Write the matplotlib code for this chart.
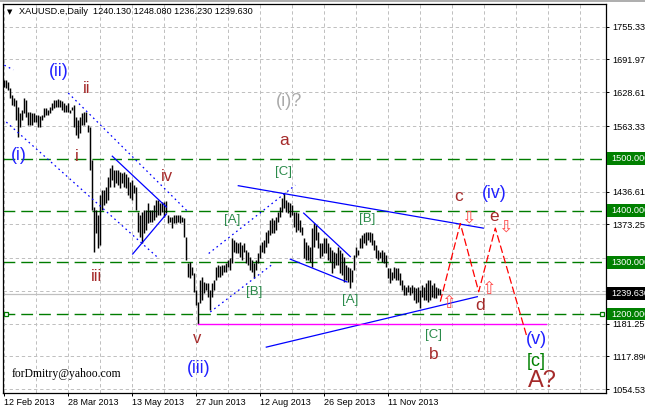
import matplotlib
matplotlib.use('Agg')
import matplotlib.pyplot as plt
from matplotlib.patches import Rectangle

plt.rcParams['lines.scale_dashes'] = False
plt.rcParams['font.family'] = ['Liberation Sans', 'DejaVu Sans']

# daily bars, XAUUSD from 12 Feb 2013 (one entry per bar)
highs = [1652, 1652, 1648, 1637, 1623, 1617, 1614, 1600, 1589, 1594,
         1617, 1614, 1590, 1590, 1589, 1589, 1585, 1585, 1583, 1585,
         1598, 1598, 1594, 1600, 1608, 1614, 1614, 1615, 1614, 1612,
         1608, 1604, 1608, 1594, 1600, 1604, 1581, 1575, 1581, 1589,
         1590, 1590, 1565, 1561, 1498, 1407, 1401, 1391, 1430, 1440,
         1440, 1446, 1465, 1482, 1488, 1478, 1478, 1478, 1474, 1472,
         1474, 1470, 1465, 1455, 1459, 1449, 1446, 1397, 1391, 1397,
         1401, 1401, 1415, 1401, 1401, 1411, 1420, 1420, 1415, 1417,
         1417, 1419, 1391, 1387, 1387, 1391, 1391, 1391, 1391, 1387,
         1386, 1349, 1299, 1301, 1291, 1279, 1246, 1223, 1266, 1271,
         1262, 1260, 1260, 1246, 1260, 1266, 1291, 1295, 1293, 1295,
         1295, 1299, 1304, 1308, 1347, 1343, 1339, 1337, 1339, 1333,
         1337, 1324, 1320, 1310, 1304, 1299, 1304, 1318, 1333, 1339,
         1343, 1359, 1362, 1382, 1386, 1382, 1387, 1397, 1407, 1424,
         1434, 1420, 1417, 1415, 1411, 1397, 1397, 1395, 1382, 1368,
         1347, 1339, 1333, 1330, 1366, 1376, 1372, 1359, 1337, 1337,
         1347, 1347, 1337, 1330, 1324, 1320, 1318, 1330, 1324, 1318,
         1310, 1295, 1291, 1289, 1285, 1314, 1330, 1324, 1347, 1353,
         1357, 1359, 1359, 1359, 1357, 1343, 1333, 1324, 1320, 1324,
         1320, 1314, 1289, 1289, 1281, 1291, 1289, 1289, 1279, 1266,
         1256, 1252, 1256, 1252, 1256, 1252, 1250, 1252, 1246, 1256,
         1252, 1260, 1266, 1266, 1256, 1260, 1252, 1250, 1248.08]
lows = [1639, 1637, 1633, 1617, 1604, 1602, 1575, 1542, 1561, 1575,
        1589, 1581, 1565, 1565, 1565, 1571, 1571, 1561, 1561, 1575,
        1581, 1585, 1585, 1589, 1594, 1598, 1600, 1600, 1600, 1594,
        1590, 1590, 1590, 1589, 1594, 1561, 1546, 1540, 1550, 1565,
        1565, 1571, 1552, 1478, 1401, 1320, 1357, 1328, 1333, 1401,
        1411, 1415, 1420, 1446, 1459, 1446, 1453, 1449, 1444, 1453,
        1446, 1444, 1430, 1424, 1420, 1434, 1401, 1359, 1349, 1337,
        1357, 1362, 1376, 1378, 1378, 1382, 1387, 1391, 1391, 1397,
        1387, 1395, 1376, 1378, 1366, 1376, 1376, 1378, 1376, 1378,
        1349, 1304, 1272, 1270, 1275, 1243, 1217, 1181, 1221, 1227,
        1241, 1246, 1233, 1208, 1233, 1246, 1266, 1272, 1272, 1275,
        1281, 1281, 1291, 1285, 1299, 1320, 1318, 1318, 1310, 1304,
        1320, 1299, 1295, 1285, 1281, 1270, 1285, 1299, 1308, 1320,
        1318, 1330, 1337, 1353, 1357, 1357, 1362, 1378, 1387, 1397,
        1405, 1397, 1395, 1387, 1391, 1368, 1359, 1362, 1359, 1353,
        1308, 1304, 1304, 1301, 1291, 1330, 1343, 1328, 1308, 1312,
        1318, 1318, 1304, 1301, 1279, 1289, 1295, 1295, 1279, 1275,
        1262, 1266, 1262, 1250, 1262, 1285, 1310, 1314, 1328, 1328,
        1337, 1333, 1343, 1339, 1333, 1324, 1308, 1304, 1308, 1301,
        1299, 1291, 1270, 1260, 1266, 1270, 1266, 1266, 1256, 1246,
        1237, 1237, 1243, 1237, 1241, 1227, 1221, 1223, 1212, 1233,
        1227, 1227, 1223, 1227, 1233, 1231, 1231, 1237, 1236.23]

date_ticks = [0, 32, 64, 96, 128, 160, 192]
date_labels = ['12 Feb 2013', '28 Mar 2013', '13 May 2013', '27 Jun 2013',
               '12 Aug 2013', '26 Sep 2013', '11 Nov 2013']
price_ticks = [1054.53, 1117.89, 1181.25, 1244.51, 1307.87, 1373.25,
               1436.61, 1563.33, 1628.61, 1691.97, 1755.33]
levels = [1500, 1400, 1300, 1200]
last_price = 1239.63
header = 'XAUUSD.e,Daily  1240.130 1248.080 1236.230 1239.630'

# analyst drawings: (bar, price) pairs
solid_lines = [
    [(117, 1448), (239.5, 1366)],      # triangle top
    [(131, 1136), (236.5, 1233.5)],    # triangle bottom
    [(54, 1505), (81, 1407)],          # wedge iv
    [(64.2, 1316), (81, 1393)],
    [(149.7, 1395), (173, 1311)],      # [A] channel
    [(143, 1306), (171.3, 1262)],
]
dotted_lines = [
    [(0, 1681), (4.5, 1672)],
    [(32, 1627), (92, 1397)],
    [(1, 1571), (76.5, 1310)],
    [(102.2, 1317), (145.5, 1449)],
    [(103, 1204), (134.7, 1298)],
]
zigzag_bar = [218, 228, 237.2, 245.5, 261.3]
zigzag_price = [1224, 1375, 1243, 1366, 1156]
support = [(97, 1181.25), (271, 1181.25)]

up_arrows = [(222, 1221), (242, 1248)]
down_arrows = [(232, 1386), (250.5, 1368)]

blue, brown, green = '#2020ff', '#a52a2a', '#2a8a4a'
labels = [
    ('(i)', 7.2, 1507, blue, 12.8), ('(ii)', 27.2, 1668, blue, 12.8),
    ('ii', 41, 1636, brown, 12), ('i', 36, 1505, brown, 12),
    ('iii', 46, 1272, brown, 12), ('iv', 81.4, 1465, brown, 12),
    ('v', 96.4, 1153, brown, 12), ('(iii)', 97.2, 1095, blue, 12.8),
    ('(i)?', 142.2, 1610, '#aaaaaa', 13), ('a', 140, 1536, brown, 12.5),
    ('[C]', 139.7, 1475, green, 9.5), ('[A]', 113.9, 1382, green, 9.5),
    ('[B]', 124.7, 1243, green, 9.5), ('[A]', 172.7, 1227, green, 9.5),
    ('[B]', 181.4, 1383, green, 9.5), ('[C]', 214.7, 1159, green, 9.5),
    ('b', 214.7, 1121, brown, 12.5), ('c', 227.2, 1427, brown, 12.5),
    ('(iv)', 245, 1433, blue, 12.8), ('e', 244.7, 1388, brown, 12.5),
    ('d', 237.7, 1217, brown, 12.5), ('(v)', 266, 1150, blue, 13),
    ('[c]', 266, 1108, '#008000', 13), ('A?', 268.9, 1071, brown, 17),
]

fig = plt.figure(figsize=(6.45, 4.09), dpi=100)
ax = fig.add_axes([3 / 645, 16.5 / 409, 602.5 / 645, 388.5 / 409])
ax.set_xlim(-0.65, 300.6)
ax.set_ylim(1048.3, 1799.2)

# grid
ax.set_axisbelow(True)
ax.set_xticks(date_ticks)
ax.set_xticklabels(date_labels, ha='left')
ax.set_xticks(range(16, 300, 16), minor=True)
ax.yaxis.tick_right()
ax.set_yticks(price_ticks)
ax.set_yticklabels(['%.3f' % v for v in price_ticks])
ax.grid(True, which='both', color='#c0c0c0', lw=0.72, linestyle=(0, (2.4, 2.0)))
ax.tick_params(axis='x', which='major', length=2.5, width=0.72, pad=1.5, labelsize=6.5)
ax.tick_params(axis='x', which='minor', length=0)
ax.tick_params(axis='y', length=2.5, width=0.72, pad=2.5, labelsize=6.6)
for sp in ax.spines.values():
    sp.set_linewidth(0.9)
    sp.set_color('black')

# levels
for lv in levels:
    ax.axhline(lv, color='#007c00', lw=1.0, linestyle=(0, (8.5, 4.3)), zorder=2)
ax.plot([0.9, 299], [1200, 1200], 's', ms=3.5, mfc='white', mec='#007c00',
        mew=0.9, zorder=3, clip_on=False)
ax.axhline(last_price, color='#c0c0c0', lw=0.9, zorder=1.5)

# price bars
xs = list(range(len(highs)))
ax.vlines(xs, lows, highs, color='black', lw=1.05, zorder=3)

# drawings
for seg in solid_lines:
    ax.plot([p[0] for p in seg], [p[1] for p in seg], color='#0000ff', lw=0.9, zorder=4)
for seg in dotted_lines:
    ax.plot([p[0] for p in seg], [p[1] for p in seg], color='#0000ff', lw=0.9,
            linestyle=(0, (1.2, 2.4)), zorder=4)
ax.plot([p[0] for p in support], [p[1] for p in support], color='#ff00ff', lw=1.0, zorder=4)
ax.plot(zigzag_bar, zigzag_price, color='#ff0000', lw=0.9,
        linestyle=(0, (5.5, 2.2)), zorder=4)
for bx, by in up_arrows:
    ax.text(bx, by, '\u21e7', color='#ff4a4a', fontsize=12.5, ha='center', va='center',
            family='DejaVu Sans', zorder=5)
for bx, by in down_arrows:
    ax.text(bx, by, '\u21e9', color='#ff4a4a', fontsize=12.5, ha='center', va='center',
            family='DejaVu Sans', zorder=5)

for txt, bx, by, col, fs in labels:
    ax.text(bx, by, txt, color=col, fontsize=fs, ha='center', va='center', zorder=6)

ax.text(3.85, 1085, 'forDmitry@yahoo.com', family='Liberation Serif', fontsize=8.4,
        ha='left', va='center', zorder=6)

# price boxes on the right scale
ytr = ax.get_yaxis_transform()
for lv in levels:
    ax.add_patch(Rectangle((1.002, lv - 12.5), 0.08, 25, transform=ytr,
                           facecolor='#008000', edgecolor='none', clip_on=False, zorder=7))
    ax.text(1.0095, lv, '%.3f' % lv, transform=ytr, color='white', fontsize=6.6,
            va='center', ha='left', clip_on=False, zorder=8)
ax.add_patch(Rectangle((1.002, last_price - 12), 0.08, 24, transform=ytr,
                       facecolor='black', edgecolor='none', clip_on=False, zorder=7))
ax.text(1.0095, last_price, '%.3f' % last_price, transform=ytr, color='white',
        fontsize=6.6, va='center', ha='left', clip_on=False, zorder=8)

# header
fig.text(6.5 / 645, 1 - 12 / 409, '\u25bc', fontsize=5, va='center', ha='left',
         family='DejaVu Sans')
fig.text(19 / 645, 1 - 12 / 409, header, fontsize=6.6, va='center', ha='left')
fig.add_artist(plt.Line2D([0, 1], [1 - 0.8 / 409] * 2, color='#a0a0a0', lw=1.2,
                          transform=fig.transFigure))

fig.savefig('out.png', dpi=100)
